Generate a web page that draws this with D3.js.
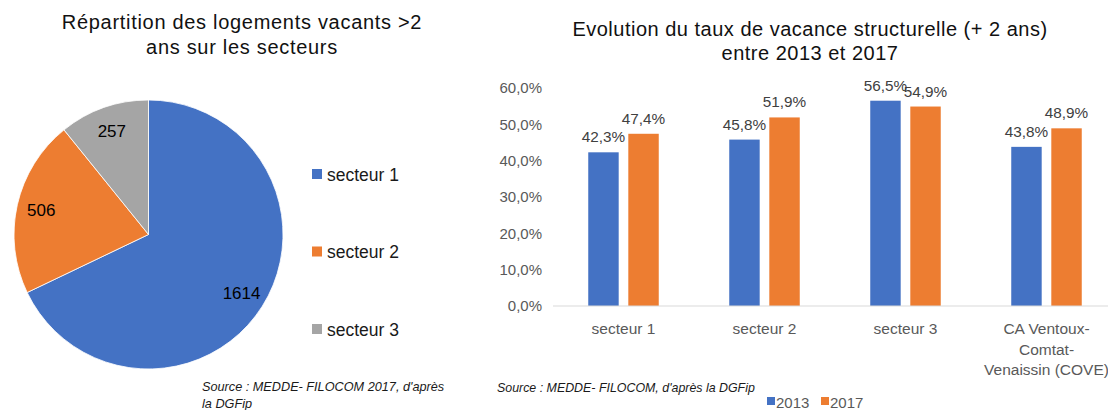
<!DOCTYPE html>
<html>
<head>
<meta charset="utf-8">
<script src="https://cdnjs.cloudflare.com/ajax/libs/d3/7.8.5/d3.min.js"></script>
<style>
  body { margin: 0; background: #fff; }
  svg { display: block; font-family: "Liberation Sans", Arial, sans-serif; }
</style>
</head>
<body>
<div id="container"></div>
<script>
var width = 1108;
var height = 410;

// pie data
var sectors = ["secteur 1", "secteur 2", "secteur 3"];
var sectorCounts = [1614, 506, 257];
var sectorColors = ["#4472C4", "#ED7D31", "#A5A5A5"];

// bar data
var categories = ["secteur 1", "secteur 2", "secteur 3", "CA Ventoux-Comtat-Venaissin (COVE)"];
var categoryLines = [["secteur 1"], ["secteur 2"], ["secteur 3"], ["CA Ventoux-", "Comtat-", "Venaissin (COVE)"]];
var years = ["2013", "2017"];
var rate2013 = [42.3, 45.8, 56.5, 43.8];
var rate2017 = [47.4, 51.9, 54.9, 48.9];
var yearColors = ["#4472C4", "#ED7D31"];
var yTicks = [0, 10, 20, 30, 40, 50, 60];

var svg = d3.select("div#container").append("svg")
    .attr("width", width)
    .attr("height", height);

var fmt = function(d) { return d.toFixed(1).replace(".", ",") + "%"; };

// ---------- left: pie ----------
var cx = 148.5, cy = 234.5, r = 134.5;
var pie = d3.pie().sort(null).value(function(d) { return d; });
var arc = d3.arc().innerRadius(0).outerRadius(r);
var labelArc = d3.arc().innerRadius(110).outerRadius(110);
var slices = pie(sectorCounts);

var pieG = svg.append("g").attr("transform", "translate(" + cx + "," + cy + ")");
pieG.selectAll("path")
    .data(slices)
    .enter()
    .append("path")
    .attr("d", arc)
    .attr("fill", function(d, i) { return sectorColors[i]; })
    .attr("stroke", "#fff")
    .attr("stroke-width", 0.8);

pieG.selectAll("text")
    .data(slices)
    .enter()
    .append("text")
    .attr("transform", function(d) { return "translate(" + labelArc.centroid(d) + ")"; })
    .attr("text-anchor", "middle")
    .attr("dy", "0.35em")
    .style("font-size", "17px")
    .style("fill", "#000")
    .text(function(d) { return d.data; });

// pie title
var leftTitle = svg.append("text")
    .attr("text-anchor", "middle")
    .style("font-size", "20px")
    .style("letter-spacing", "0.7px")
    .style("fill", "#111");
leftTitle.append("tspan").attr("x", 242).attr("y", 29).text("Répartition des logements vacants >2");
leftTitle.append("tspan").attr("x", 242).attr("y", 54).text("ans sur les secteurs");

// pie legend
var pieLegend = svg.selectAll("g.pie-legend")
    .data(sectors)
    .enter()
    .append("g")
    .attr("class", "pie-legend")
    .attr("transform", function(d, i) { return "translate(312," + (169 + i * 77.5) + ")"; });
pieLegend.append("rect")
    .attr("width", 10).attr("height", 10)
    .attr("fill", function(d, i) { return sectorColors[i]; });
pieLegend.append("text")
    .attr("x", 15).attr("y", 11.5)
    .style("font-size", "17.5px")
    .style("fill", "#1a1a1a")
    .text(function(d) { return d; });

// left source
var leftSrc = svg.append("text")
    .style("font-size", "12.7px")
    .style("font-style", "italic")
    .style("fill", "#1a1a1a");
leftSrc.append("tspan").attr("x", 202).attr("y", 391).text("Source : MEDDE- FILOCOM 2017, d'après");
leftSrc.append("tspan").attr("x", 202).attr("y", 408).text("la DGFip");

// ---------- right: grouped bars ----------
var x0 = d3.scaleBand()
    .domain(categories)
    .range([553, 1117])
    .paddingInner(0.5)
    .paddingOuter(0.25);
var x1 = d3.scaleBand()
    .domain(years)
    .range([0, x0.bandwidth()])
    .paddingInner(0.24);
var y = d3.scaleLinear()
    .domain([0, 60])
    .range([306, 88]);

var rows = categories.map(function(c, i) {
    return { cat: c, values: [ { year: years[0], v: rate2013[i] }, { year: years[1], v: rate2017[i] } ] };
});

var groups = svg.selectAll("g.group")
    .data(rows)
    .enter()
    .append("g")
    .attr("class", "group")
    .attr("transform", function(d) { return "translate(" + x0(d.cat) + ",0)"; });

groups.selectAll("rect")
    .data(function(d) { return d.values; })
    .enter()
    .append("rect")
    .attr("x", function(d) { return x1(d.year); })
    .attr("y", function(d) { return y(d.v); })
    .attr("width", x1.bandwidth())
    .attr("height", function(d) { return y(0) - y(d.v); })
    .attr("fill", function(d, i) { return yearColors[i]; });

groups.selectAll("text.val")
    .data(function(d) { return d.values; })
    .enter()
    .append("text")
    .attr("class", "val")
    .attr("x", function(d) { return x1(d.year) + x1.bandwidth() / 2; })
    .attr("y", function(d) { return y(d.v) - 10; })
    .attr("text-anchor", "middle")
    .style("font-size", "15.3px")
    .style("fill", "#404040")
    .text(function(d) { return fmt(d.v); });

// baseline
svg.append("line")
    .attr("x1", 553).attr("x2", 1108)
    .attr("y1", y(0)).attr("y2", y(0))
    .attr("stroke", "#d9d9d9")
    .attr("stroke-width", 1);

// y axis labels
var yAxis = d3.axisLeft(y).tickValues(yTicks).tickFormat(fmt).tickSize(0).tickPadding(0);
var yG = svg.append("g").attr("transform", "translate(542,0)").call(yAxis);
yG.select(".domain").remove();
yG.selectAll("text")
    .style("font-size", "15px")
    .style("font-family", "'Liberation Sans', Arial, sans-serif")
    .style("fill", "#595959");

// x category labels
var catText = svg.selectAll("text.cat")
    .data(categories)
    .enter()
    .append("text")
    .attr("class", "cat")
    .attr("text-anchor", "middle")
    .style("font-size", "15.5px")
    .style("fill", "#595959");
catText.each(function(d, i) {
    var t = d3.select(this);
    var cxp = x0(d) + x0.bandwidth() / 2;
    categoryLines[i].forEach(function(line, j) {
        t.append("tspan").attr("x", cxp).attr("y", 334 + j * 20.5).text(line);
    });
});

// right title
var rightTitle = svg.append("text")
    .attr("text-anchor", "middle")
    .style("font-size", "20px")
    .style("letter-spacing", "0.5px")
    .style("fill", "#111");
rightTitle.append("tspan").attr("x", 810).attr("y", 36).text("Evolution du taux de vacance structurelle (+ 2 ans)");
rightTitle.append("tspan").attr("x", 810).attr("y", 60).text("entre 2013 et 2017");

// right source
svg.append("text")
    .attr("x", 497).attr("y", 392)
    .style("font-size", "12.4px")
    .style("font-style", "italic")
    .style("fill", "#1a1a1a")
    .text("Source : MEDDE- FILOCOM, d'après la DGFip");

// bar legend
var barLegend = svg.selectAll("g.bar-legend")
    .data(years)
    .enter()
    .append("g")
    .attr("class", "bar-legend")
    .attr("transform", function(d, i) { return "translate(" + (767 + i * 54) + ",397)"; });
barLegend.append("rect")
    .attr("width", 8).attr("height", 8)
    .attr("fill", function(d, i) { return yearColors[i]; });
barLegend.append("text")
    .attr("x", 9).attr("y", 11)
    .style("font-size", "15px")
    .style("fill", "#595959")
    .text(function(d) { return d; });
</script>
</body>
</html>
